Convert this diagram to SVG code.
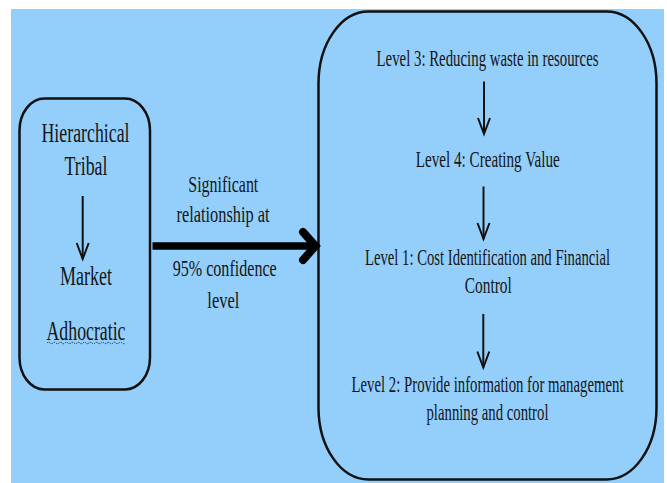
<svg xmlns="http://www.w3.org/2000/svg" width="667" height="483" viewBox="0 0 667 483">
<defs>
<style>
.bg{fill:#94CFFB;}
.box{fill:#94CFFB;stroke:#111;stroke-width:2.5;}
.t{font-family:"Liberation Serif","Times New Roman",serif;fill:#151515;text-anchor:middle;}
.l{font-size:17.6px;}
.m{font-size:16px;}
.r{font-size:15px;}
.conn{fill:none;stroke:#111;stroke-width:2;}
</style>
<marker id="vhead" markerUnits="userSpaceOnUse" markerWidth="20" markerHeight="20" viewBox="-18 -10 20 20" refX="0" refY="0" orient="auto" overflow="visible">
<path d="M-16,-6 L0,0 L-16,6" fill="none" stroke="#111" stroke-width="2"/>
</marker>
</defs>
<rect class="bg" x="11" y="9" width="653" height="474"/>
<g id="culture-box">
<rect class="box" x="19.5" y="98.5" width="130.5" height="291" rx="25" ry="32"/>
<text class="t l" transform="translate(85.5,141.7) scale(1,1.5)" x="0" y="0" textLength="88" lengthAdjust="spacingAndGlyphs">Hierarchical</text>
<text class="t l" transform="translate(86,175) scale(1,1.5)" x="0" y="0" textLength="43" lengthAdjust="spacingAndGlyphs">Tribal</text>
<text class="t l" transform="translate(86,285) scale(1,1.5)" x="0" y="0" textLength="52" lengthAdjust="spacingAndGlyphs">Market</text>
<text class="t l" transform="translate(86,339.5) scale(1,1.5)" x="0" y="0" textLength="79" lengthAdjust="spacingAndGlyphs">Adhocratic</text>
<path d="M47,343 q1.5,-1.5 3,0 t3,0 t3,0 t3,0 t3,0 t3,0 t3,0 t3,0 t3,0 t3,0 t3,0 t3,0 t3,0 t3,0 t3,0 t3,0 t3,0 t3,0 t3,0 t3,0 t3,0 t3,0 t3,0 t3,0 t3,0 t3,0" fill="none" stroke="#333" stroke-width="1" stroke-dasharray="1.5 1"/>
</g>
<g id="relationship-label">
<text class="t m" transform="translate(223.3,191.7) scale(1,1.45)" x="0" y="0" textLength="70" lengthAdjust="spacingAndGlyphs">Significant</text>
<text class="t m" transform="translate(223,221.5) scale(1,1.45)" x="0" y="0" textLength="93" lengthAdjust="spacingAndGlyphs">relationship at</text>
<text class="t m" transform="translate(224.7,276) scale(1,1.45)" x="0" y="0" textLength="104" lengthAdjust="spacingAndGlyphs">95% confidence</text>
<text class="t m" transform="translate(223.3,308) scale(1,1.45)" x="0" y="0" textLength="32" lengthAdjust="spacingAndGlyphs">level</text>
</g>
<g id="levels-box">
<rect class="box" x="318.5" y="11.5" width="338" height="468" rx="50" ry="72"/>
<text class="t r" transform="translate(487.5,66) scale(1,1.55)" x="0" y="0" textLength="222" lengthAdjust="spacingAndGlyphs">Level 3: Reducing waste in resources</text>
<text class="t r" transform="translate(487.7,166.5) scale(1,1.55)" x="0" y="0" textLength="144" lengthAdjust="spacingAndGlyphs">Level 4: Creating Value</text>
<text class="t r" transform="translate(487.5,265) scale(1,1.55)" x="0" y="0" textLength="245" lengthAdjust="spacingAndGlyphs">Level 1: Cost Identification and Financial</text>
<text class="t r" transform="translate(488.3,293) scale(1,1.55)" x="0" y="0" textLength="47" lengthAdjust="spacingAndGlyphs">Control</text>
<text class="t r" transform="translate(487.5,391.7) scale(1,1.55)" x="0" y="0" textLength="272" lengthAdjust="spacingAndGlyphs">Level 2: Provide information for management</text>
<text class="t r" transform="translate(487.5,420) scale(1,1.55)" x="0" y="0" textLength="122" lengthAdjust="spacingAndGlyphs">planning and control</text>
</g>
<g id="connectors">
<line class="conn" x1="82.7" y1="196" x2="82.7" y2="259" marker-end="url(#vhead)"/>
<line class="conn" x1="484" y1="81.5" x2="484" y2="134" marker-end="url(#vhead)"/>
<line class="conn" x1="483.5" y1="186.5" x2="483.5" y2="239" marker-end="url(#vhead)"/>
<line class="conn" x1="483.3" y1="314" x2="483.3" y2="367.5" marker-end="url(#vhead)"/>
<line x1="152.5" y1="246" x2="313" y2="246" stroke="#000" stroke-width="7.5"/>
<path d="M303,232 L315.5,246 L303,260" fill="none" stroke="#000" stroke-width="8" stroke-linecap="round"/>
</g>
</svg>
